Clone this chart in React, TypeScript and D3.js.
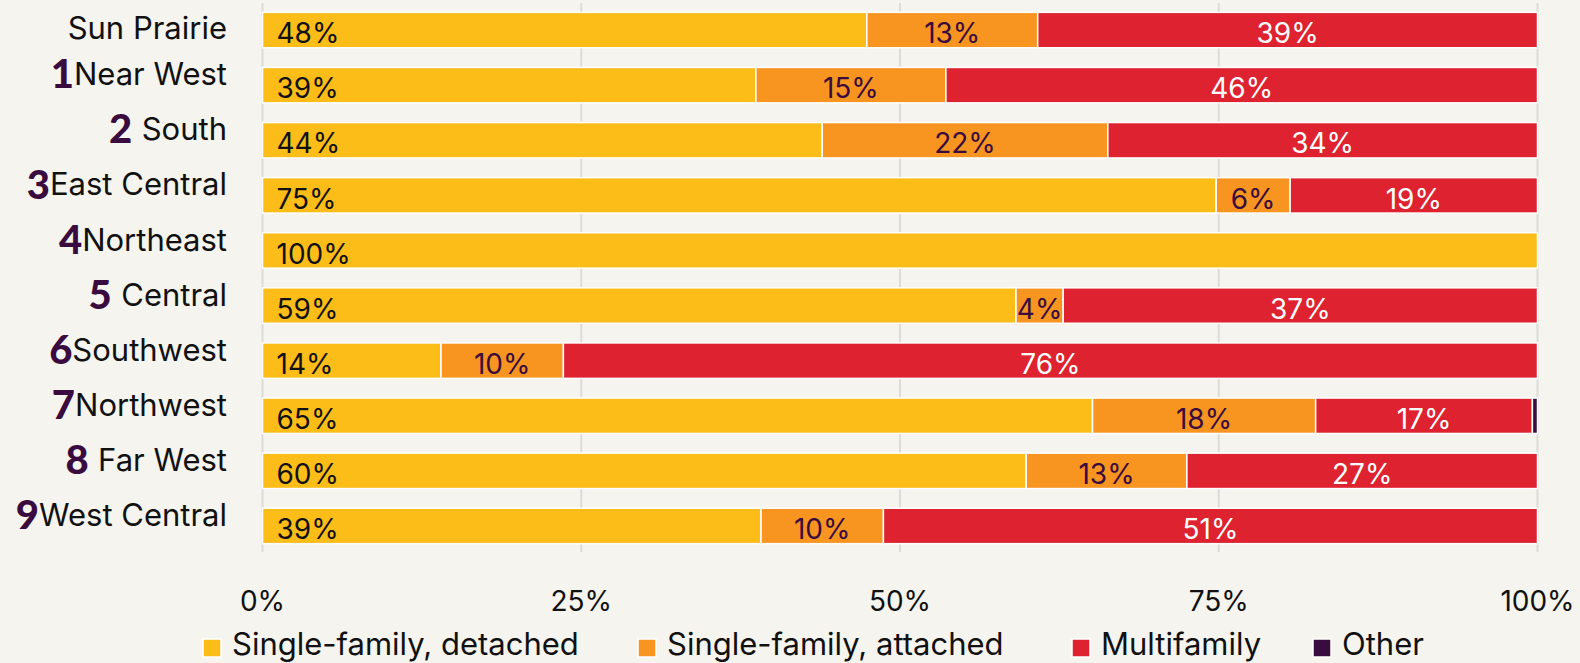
import React from "react";
import * as d3 from "d3";

const categories = ["Sun Prairie", "Near West", "South", "East Central", "Northeast", "Central", "Southwest", "Northwest", "Far West", "West Central"];
const prefixes = ["", "1", "2 ", "3", "4", "5 ", "6", "7", "8 ", "9"];
const seriesNames = ["Single-family, detached", "Single-family, attached", "Multifamily", "Other"];
const detached = [47.4, 38.7, 43.9, 74.8, 100, 59.1, 14.0, 65.1, 59.9, 39.1];
const attached = [13.4, 14.9, 22.4, 5.8, 0, 3.7, 9.6, 17.5, 12.6, 9.6];
const multifamily = [39.2, 46.4, 33.7, 19.4, 0, 37.2, 76.4, 17.0, 27.5, 51.3];
const other = [0, 0, 0, 0, 0, 0, 0, 0.4, 0, 0];
const labels = [
  ["48%", "13%", "39%", ""],
  ["39%", "15%", "46%", ""],
  ["44%", "22%", "34%", ""],
  ["75%", "6%", "19%", ""],
  ["100%", "", "", ""],
  ["59%", "4%", "37%", ""],
  ["14%", "10%", "76%", ""],
  ["65%", "18%", "17%", ""],
  ["60%", "13%", "27%", ""],
  ["39%", "10%", "51%", ""],
];
const ticks = [0, 25, 50, 75, 100];

const colors = ["#fdbd19", "#f79520", "#de2230", "#3a0b3f"];
const labelColors = ["#111111", "#3a0b3f", "#ffffff", "#ffffff"];

const W = 1580;
const H = 663;
const FONT = "Inter, 'Noto Sans', sans-serif";

export default function App() {
  const x = d3.scaleLinear().domain([0, 100]).range([262.5, 1537.5]);
  const y = d3.scaleBand<string>().domain(categories).range([2.5, 553.5]).paddingInner(0.357).paddingOuter(0.1785);
  const series = [detached, attached, multifamily, other];

  const legendX = [202, 637, 1071, 1312];

  return (
    <svg width={W} height={H} style={{ position: "absolute", left: 0, top: 0, display: "block" }} fontFamily={FONT}>
      <rect x={0} y={0} width={W} height={H} fill="#f5f4ee" />
      {ticks.map((t) => (
        <line key={t} x1={x(t)} x2={x(t)} y1={3} y2={552} stroke="#dcdcd8" strokeWidth={2} />
      ))}
      {categories.map((c, i) => {
        let acc = 0;
        const y0 = y(c)!;
        const bh = y.bandwidth();
        return (
          <g key={c}>
            {series.map((s, k) => {
              const v = s[i];
              if (v <= 0) return null;
              const x0 = x(acc);
              const x1 = x(acc + v);
              acc += v;
              const lab = labels[i][k];
              return (
                <g key={k}>
                  <rect x={x0} y={y0} width={x1 - x0} height={bh} fill={colors[k]} stroke="#ffffff" strokeWidth={1.5} />
                  {lab && (
                    <text
                      x={k === 0 ? x0 + 14 : (x0 + x1) / 2}
                      y={y0 + bh / 2}
                      dy="0.47em"
                      textAnchor={k === 0 ? "start" : "middle"}
                      fontSize={28}
                      fill={labelColors[k]}
                    >
                      {lab}
                    </text>
                  )}
                </g>
              );
            })}
            <text x={227} y={y0 + bh / 2} dy="0.3em" textAnchor="end" fontSize={31} fill="#111111">
              {prefixes[i] && (
                <tspan fill="#3a0b3f" fontFamily="Lato, sans-serif" fontWeight={900} fontSize={40} dy="0.08em">
                  {prefixes[i]}
                </tspan>
              )}
              <tspan dy={prefixes[i] ? "-0.1em" : undefined}>{c}</tspan>
            </text>
          </g>
        );
      })}
      {ticks.map((t) => (
        <text key={t} x={x(t)} y={611} textAnchor="middle" fontSize={28} fill="#111111">
          {t}%
        </text>
      ))}
      {seriesNames.map((n, k) => (
        <g key={n}>
          <rect x={legendX[k] + 1} y={639} width={18} height={18} fill={colors[k]} stroke="#ffffff" strokeWidth={1.5} />
          <text x={legendX[k] + 30} y={655} fontSize={31} fill="#111111">
            {n}
          </text>
        </g>
      ))}
    </svg>
  );
}
